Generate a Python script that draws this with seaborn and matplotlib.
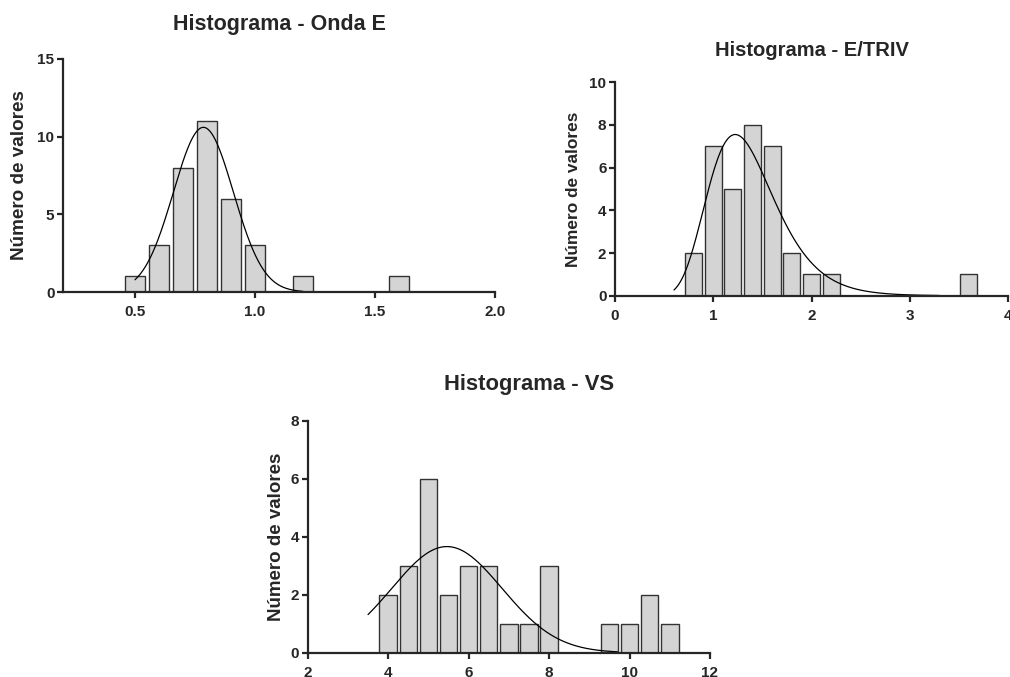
import numpy as np
import matplotlib
matplotlib.use("Agg")
import matplotlib.pyplot as plt
import seaborn as sns

# Histogram counts (bin centres + counts)
onda_centres = [0.5, 0.6, 0.7, 0.8, 0.9, 1.0, 1.2, 1.6]
onda_counts = [1, 3, 8, 11, 6, 3, 1, 1]

etriv_centres = [0.8, 1.0, 1.2, 1.4, 1.6, 1.8, 2.0, 2.2, 3.6]
etriv_counts = [2, 7, 5, 8, 7, 2, 1, 1, 1]

vs_centres = [4.0, 4.5, 5.0, 5.5, 6.0, 6.5, 7.0, 7.5, 8.0, 9.5, 10.0, 10.5, 11.0]
vs_counts = [2, 3, 6, 2, 3, 3, 1, 1, 3, 1, 1, 2, 1]

onda_fit = dict(amp=10.6, mean=0.785, sd=0.125, x0=0.5, x1=1.2)
etriv_fit = dict(amp=9.6, geomean=1.32, lnsd=0.2755, x0=0.6, x1=3.3)
vs_fit = dict(amp=3.66, mean=5.46, sd=1.37, x0=3.5, x1=9.7)

sns.set_style("ticks")
plt.rcParams["font.family"] = ["Liberation Sans", "DejaVu Sans"]
plt.rcParams["font.weight"] = "bold"

W, H = 1010, 677
fig = plt.figure(figsize=(W / 100, H / 100), dpi=100)


def px_axes(left, right, top, bottom):
    return fig.add_axes([left / W, 1 - bottom / H, (right - left) / W, (bottom - top) / H])


def draw_hist(ax, centres, counts, binw, fit_x, fit_y):
    edges_lo = min(centres) - binw / 2
    n = int(round((max(centres) - min(centres)) / binw)) + 1
    bins = [edges_lo + i * binw for i in range(n + 1)]
    sns.histplot(x=centres, weights=counts, bins=bins, shrink=0.87, ax=ax,
                 color="#d4d4d4", edgecolor="#333333", linewidth=1.0, alpha=1)
    sns.lineplot(x=fit_x, y=fit_y, ax=ax, color="black", linewidth=0.9)
    sns.despine(ax=ax)
    for s in ["left", "bottom"]:
        ax.spines[s].set_linewidth(1.6)
    ax.tick_params(width=1.6, length=4, labelsize=11)
    ax.tick_params(axis="x", pad=5.5)
    ax.tick_params(axis="y", pad=2.2)
    ax.set_xlabel("")


def label_panel(ax, title, tx, ty, tsize, ysize, ylx):
    ax.set_title(title, x=tx, y=ty, va="center", pad=0, fontsize=tsize, fontweight="bold")
    ax.set_ylabel("Número de valores", fontsize=ysize, fontweight="bold", va="center")
    ax.yaxis.set_label_coords(ylx, 0.5)


# --- Onda E ---
ax1 = px_axes(63, 495, 59, 292)
xs = np.linspace(onda_fit["x0"], onda_fit["x1"], 200)
ys = onda_fit["amp"] * np.exp(-0.5 * ((xs - onda_fit["mean"]) / onda_fit["sd"]) ** 2)
draw_hist(ax1, onda_centres, onda_counts, 0.1, xs, ys)
ax1.set_xlim(0.2, 2.0)
ax1.set_ylim(0, 15)
ax1.set_xticks([0.5, 1.0, 1.5, 2.0])
ax1.set_xticklabels(["0.5", "1.0", "1.5", "2.0"], fontweight="bold")
ax1.set_yticks([0, 5, 10, 15])
ax1.set_yticklabels(["0", "5", "10", "15"], fontweight="bold")
label_panel(ax1, "Histograma - Onda E", 0.502, 1 + 34.5 / 233, 15.5, 13.6, -43 / 432)

# --- E/TRIV ---
ax2 = px_axes(615, 1008, 82.3, 295.7)
xs = np.linspace(etriv_fit["x0"], etriv_fit["x1"], 300)
ys = etriv_fit["amp"] / xs * np.exp(-0.5 * ((np.log(xs) - np.log(etriv_fit["geomean"])) / etriv_fit["lnsd"]) ** 2)
draw_hist(ax2, etriv_centres, etriv_counts, 0.2, xs, ys)
ax2.set_xlim(0, 4)
ax2.set_ylim(0, 10)
ax2.set_xticks([0, 1, 2, 3, 4])
ax2.set_xticklabels(["0", "1", "2", "3", "4"], fontweight="bold")
ax2.set_yticks([0, 2, 4, 6, 8, 10])
ax2.set_yticklabels(["0", "2", "4", "6", "8", "10"], fontweight="bold")
label_panel(ax2, "Histograma - E/TRIV", 0.502, 1 + 32.3 / 213.4, 14.5, 12.4, -42 / 393)

# --- VS ---
ax3 = px_axes(307.7, 710, 420.7, 652.7)
xs = np.linspace(vs_fit["x0"], vs_fit["x1"], 300)
ys = vs_fit["amp"] * np.exp(-0.5 * ((xs - vs_fit["mean"]) / vs_fit["sd"]) ** 2)
draw_hist(ax3, vs_centres, vs_counts, 0.5, xs, ys)
ax3.set_xlim(2, 12)
ax3.set_ylim(0, 8)
ax3.set_xticks([2, 4, 6, 8, 10, 12])
ax3.set_xticklabels(["2", "4", "6", "8", "10", "12"], fontweight="bold")
ax3.set_yticks([0, 2, 4, 6, 8])
ax3.set_yticklabels(["0", "2", "4", "6", "8"], fontweight="bold")
label_panel(ax3, "Histograma - VS", 0.549, 1 + 35.7 / 232, 15.8, 13.5, -31 / 402)

fig.savefig("out.png", dpi=100)
